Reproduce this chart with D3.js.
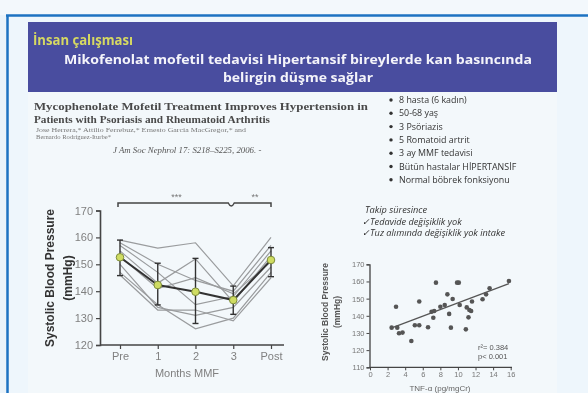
<!DOCTYPE html>
<html><head><meta charset="utf-8">
<script src="https://cdn.jsdelivr.net/npm/d3@7/dist/d3.min.js"></script>
<style>body{margin:0;background:#eaf3fa;}svg{display:block;}</style>
</head><body><svg id="c" width="588" height="393"></svg>
<script>
// ---------- data ----------
const titleText = "İnsan çalışması";
const subtitleLines = ["Mikofenolat mofetil tedavisi Hipertansif bireylerde kan basıncında", "belirgin düşme sağlar"];
const paperTitle = ["Mycophenolate Mofetil Treatment Improves Hypertension in", "Patients with Psoriasis and Rheumatoid Arthritis"];
const paperAuthors = ["Jose Herrera,* Attilio Ferrebuz,* Ernesto García MacGregor,* and", "Bernardo Rodríguez-Iturbe*"];
const paperJournal = "J Am Soc Nephrol 17: S218–S225, 2006. -";
const bullets = ["8 hasta (6 kadın)", "50-68 yaş", "3 Psöriazis", "5 Romatoid artrit", "3 ay MMF tedavisi", "Bütün hastalar HİPERTANSİF", "Normal böbrek fonksiyonu"];
const followUp = ["Takip süresince", "✓Tedavide değişiklik yok", "✓Tuz alımında değişiklik yok intake"];

// line chart
const months = ["Pre", "1", "2", "3", "Post"];
const patients = [
  [159, 156, 158, 142, 160],
  [158, 150, 144, 140, 157],
  [157, 147, 135, 138, 155],
  [155, 143, 152, 136, 153],
  [153, 141, 145, 139, 151],
  [150, 134, 131, 134, 149],
  [147, 135, 126, 130, 147],
  [146, 133, 133, 129, 145]
];
const meanSBP = [152.6, 142.3, 139.8, 136.7, 151.6];
const errLow  = [145.8, 134.9, 128.0, 131.4, 145.4];
const errHigh = [159.0, 150.4, 152.2, 141.9, 156.2];
const lineYTicks = [120, 130, 140, 150, 160, 170];
const sigLabels = ["***", "**"];

// scatter
const tnf = [2.96, 2.46, 3.1, 3.3, 3.7, 4.7, 5.1, 5.6, 5.6, 6.6, 7.0, 7.2, 7.3, 7.5, 8.0, 8.5, 8.8, 9.0, 9.2, 9.4, 9.9, 10.1, 10.2, 10.9, 11.0, 11.2, 11.3, 11.5, 11.6, 12.8, 13.2, 13.6, 15.8];
const sbpScatter = [145.3, 133.1, 133.1, 129.8, 130.2, 125.3, 134.5, 134.5, 148.3, 133.3, 142.4, 138.9, 142.8, 159.3, 145.3, 146.3, 152.5, 141.1, 133.1, 149.8, 159.3, 159.3, 146.3, 132.1, 144.9, 139.1, 143.4, 142.8, 148.3, 149.6, 152.5, 156.0, 160.3];
const fitLine = {slope: 1.93, intercept: 128.2, from: 2.4, to: 15.8};
const scatterXTicks = [0, 2, 4, 6, 8, 10, 12, 14, 16];
const scatterYTicks = [110, 120, 130, 140, 150, 160, 170];
const statText = ["r²= 0.384", "p< 0.001"];

// ---------- drawing ----------
const svg = d3.select("#c");
const defs = svg.append("defs");
defs.append("filter").attr("id","soft").attr("x","-5%").attr("y","-5%").attr("width","110%").attr("height","110%")
  .append("feGaussianBlur").attr("stdDeviation",0.4);
// backgrounds
svg.append("rect").attr("x",0).attr("y",0).attr("width",588).attr("height",393).attr("fill","#eaf3fa");
svg.append("rect").attr("x",0).attr("y",0).attr("width",588).attr("height",15).attr("fill","#f3f8fc");
svg.append("rect").attr("x",8).attr("y",16).attr("width",580).attr("height",377).attr("fill","#eef6fc");
svg.append("rect").attr("x",28).attr("y",22).attr("width",529).attr("height",371).attr("fill","#f3f8fb");
svg.append("line").attr("x1",6).attr("x2",588).attr("y1",15.5).attr("y2",15.5).attr("stroke","#1d72c2").attr("stroke-width",2.5);
svg.append("line").attr("x1",7.5).attr("x2",7.5).attr("y1",15).attr("y2",393).attr("stroke","#1d72c2").attr("stroke-width",2.5);
const root = svg.append("g").attr("filter","url(#soft)");
// header
root.append("rect").attr("x",28).attr("y",22).attr("width",529).attr("height",70).attr("fill","#4a4d9f");
root.append("text").attr("x",33).attr("y",45).text(titleText)
  .attr("font-family","Open Sans").attr("font-weight","bold").attr("font-size",15).attr("fill","#d6d962")
  .attr("textLength",100).attr("lengthAdjust","spacingAndGlyphs");
root.selectAll(".sub").data(subtitleLines).join("text")
  .attr("x",298).attr("y",(d,i)=>64+i*18).attr("text-anchor","middle").text(d=>d)
  .attr("font-family","Open Sans").attr("font-weight","bold").attr("font-size",13).attr("fill","#f4f4fa")
  .attr("textLength",(d,i)=>i===0?468:150).attr("lengthAdjust","spacingAndGlyphs");

// paper citation
root.selectAll(".pt").data(paperTitle).join("text")
  .attr("x",34).attr("y",(d,i)=>110+i*12.5).text(d=>d)
  .attr("font-family","Liberation Serif").attr("font-weight","bold").attr("font-size",10.5).attr("fill","#4a4a4a")
  .attr("textLength",(d,i)=>i===0?334:236).attr("lengthAdjust","spacingAndGlyphs");
root.selectAll(".pa").data(paperAuthors).join("text")
  .attr("x",36).attr("y",(d,i)=>132+i*7).text(d=>d)
  .attr("font-family","Liberation Serif").attr("font-size",6.5).attr("fill","#777")
  .attr("textLength",(d,i)=>i===0?210:75).attr("lengthAdjust","spacingAndGlyphs");
root.append("text").attr("x",113).attr("y",153).text(paperJournal)
  .attr("font-family","Liberation Serif").attr("font-style","italic").attr("font-size",8.8).attr("fill","#555");

// bullets
const bg = root.append("g");
bullets.forEach((b,i)=>{
  const y = 103 + i*13.3;
  bg.append("circle").attr("cx",391).attr("cy",y-3).attr("r",1.7).attr("fill","#333");
  bg.append("text").attr("x",399).attr("y",y).text(b)
    .attr("font-family","Open Sans").attr("font-size",8.9).attr("fill","#333");
});
root.selectAll(".fu").data(followUp).join("text")
  .attr("x",(d,i)=> i===0?365:362).attr("y",(d,i)=>213+i*11.5).text(d=>d)
  .attr("font-family","Open Sans").attr("font-style","italic").attr("font-size",9.2).attr("fill","#333");

// ---- line chart ----
const x1 = d3.scalePoint().domain(months).range([120, 271]);
const y1 = d3.scaleLinear().domain([120,170]).range([345, 210.5]);
const gL = root.append("g");
const yAx = gL.append("g").attr("transform","translate(100,0)")
  .call(d3.axisLeft(y1).tickValues(lineYTicks).tickSize(4).tickPadding(3));
const xAx = gL.append("g").attr("transform","translate(0,345)")
  .call(d3.axisBottom(x1).tickSize(4).tickPadding(3));
xAx.select(".domain").attr("d","M100,0H284");
[yAx,xAx].forEach(a=>{
  a.select(".domain").attr("stroke","#444").attr("stroke-width",1.6);
  a.selectAll(".tick line").attr("stroke","#444").attr("stroke-width",1.2);
  a.selectAll(".tick text").attr("fill","#808080").attr("font-family","Liberation Sans").attr("font-size",11);
});
const line = d3.line().x((d,i)=>x1(months[i])).y(d=>y1(d));
gL.selectAll(".pl").data(patients).join("path")
  .attr("d",line).attr("fill","none").attr("stroke","#9a9c9e").attr("stroke-width",1.2);
months.forEach((m,i)=>{
  const cx = x1(m);
  gL.append("line").attr("x1",cx).attr("x2",cx).attr("y1",y1(errLow[i])).attr("y2",y1(errHigh[i])).attr("stroke","#333").attr("stroke-width",1.4);
  [errLow[i],errHigh[i]].forEach(v=>gL.append("line").attr("x1",cx-3).attr("x2",cx+3).attr("y1",y1(v)).attr("y2",y1(v)).attr("stroke","#333").attr("stroke-width",1.4));
});
gL.append("path").datum(meanSBP).attr("d",line).attr("fill","none").attr("stroke","#333").attr("stroke-width",2);
gL.selectAll(".mk").data(meanSBP).join("circle")
  .attr("cx",(d,i)=>x1(months[i])).attr("cy",d=>y1(d)).attr("r",3.8)
  .attr("fill","#cfdc62").attr("stroke","#7d8c3a").attr("stroke-width",1);
const bx0 = x1("Pre"), bx3 = x1("3"), bx4 = x1("Post");
gL.append("path").attr("d",`M${bx0-2},207V203H${bx3-5}Q${bx3-2},209 ${bx3+1},203H${bx4}V207`)
  .attr("fill","none").attr("stroke","#444").attr("stroke-width",1.5);
gL.append("text").attr("x",(bx0+bx3)/2).attr("y",200).attr("text-anchor","middle").text(sigLabels[0])
  .attr("font-family","Liberation Sans").attr("font-size",9).attr("fill","#777");
gL.append("text").attr("x",(bx3+bx4)/2+3).attr("y",200).attr("text-anchor","middle").text(sigLabels[1])
  .attr("font-family","Liberation Sans").attr("font-size",9).attr("fill","#777");
gL.append("text").attr("transform","translate(54,278) rotate(-90)").attr("text-anchor","middle")
  .text("Systolic Blood Pressure").attr("font-family","Liberation Sans").attr("font-weight","bold").attr("font-size",12).attr("fill","#333");
gL.append("text").attr("transform","translate(72,278) rotate(-90)").attr("text-anchor","middle")
  .text("(mmHg)").attr("font-family","Liberation Sans").attr("font-weight","bold").attr("font-size",12).attr("fill","#333");
gL.append("text").attr("x",187).attr("y",377).attr("text-anchor","middle").text("Months MMF")
  .attr("font-family","Liberation Sans").attr("font-size",11).attr("fill","#808080");

// ---- scatter ----
const x2 = d3.scaleLinear().domain([0,16]).range([370, 510.7]);
const y2 = d3.scaleLinear().domain([110,170]).range([367.3, 264.3]);
const gS = root.append("g");
const sy = gS.append("g").attr("transform","translate(369.5,0)")
  .call(d3.axisLeft(y2).tickValues(scatterYTicks).tickSize(3).tickPadding(2));
const sx = gS.append("g").attr("transform","translate(0,367.3)")
  .call(d3.axisBottom(x2).tickValues(scatterXTicks).tickSize(3).tickPadding(1));
sx.select(".domain").attr("d","M369.5,0H512");
[sy,sx].forEach(a=>{
  a.select(".domain").attr("stroke","#444").attr("stroke-width",1.3);
  a.selectAll(".tick line").attr("stroke","#444");
  a.selectAll(".tick text").attr("fill","#777").attr("font-family","Liberation Sans").attr("font-size",7.5);
});
gS.selectAll(".pt").data(tnf).join("circle")
  .attr("cx",d=>x2(d)).attr("cy",(d,i)=>y2(sbpScatter[i])).attr("r",2.3).attr("fill","#555");
gS.append("line").attr("x1",x2(fitLine.from)).attr("x2",x2(fitLine.to))
  .attr("y1",y2(fitLine.intercept+fitLine.slope*fitLine.from)).attr("y2",y2(fitLine.intercept+fitLine.slope*fitLine.to))
  .attr("stroke","#555").attr("stroke-width",1.3);
gS.append("text").attr("transform","translate(328,312) rotate(-90)").attr("text-anchor","middle")
  .text("Systolic Blood Pressure").attr("font-family","Liberation Sans").attr("font-weight","bold").attr("font-size",8.5).attr("fill","#555");
gS.append("text").attr("transform","translate(340,312) rotate(-90)").attr("text-anchor","middle")
  .text("(mmHg)").attr("font-family","Liberation Sans").attr("font-weight","bold").attr("font-size",8.5).attr("fill","#555");
gS.selectAll(".st").data(statText).join("text")
  .attr("x",478).attr("y",(d,i)=>350+i*8.5).text(d=>d)
  .attr("font-family","Liberation Sans").attr("font-size",7.5).attr("fill","#555");
gS.append("text").attr("x",440).attr("y",391).attr("text-anchor","middle").text("TNF-α (pg/mgCr)")
  .attr("font-family","Liberation Sans").attr("font-size",8).attr("fill","#666");
</script></body></html>
